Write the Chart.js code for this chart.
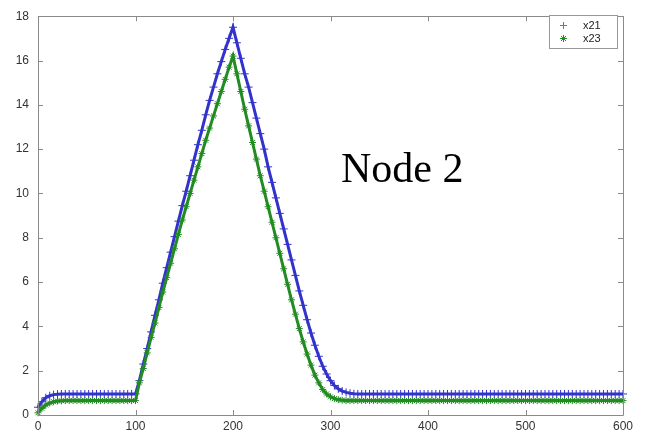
<!DOCTYPE html>
<html>
<head>
<meta charset="utf-8">
<script src="https://cdn.jsdelivr.net/npm/chart.js@4/dist/chart.umd.min.js"></script>
<style>
  html, body { margin: 0; padding: 0; background: #fff; }
  #wrap { width: 647px; height: 434px; }
</style>
</head>
<body>
<div id="wrap"><canvas id="nodeChart" width="647" height="434"></canvas></div>
<script>
// sample times (x axis)
const times = [
    0, 4, 8, 12, 16, 20, 24, 28, 32, 36,
    40, 44, 48, 52, 56, 60, 64, 68, 72, 76,
    80, 84, 88, 92, 96, 100, 104, 108, 112, 116,
    120, 124, 128, 132, 136, 140, 144, 148, 152, 156,
    160, 164, 168, 172, 176, 180, 184, 188, 192, 196,
    200, 204, 208, 212, 216, 220, 224, 228, 232, 236,
    240, 244, 248, 252, 256, 260, 264, 268, 272, 276,
    280, 284, 288, 292, 296, 300, 304, 308, 312, 316,
    320, 324, 328, 332, 336, 340, 344, 348, 352, 356,
    360, 364, 368, 372, 376, 380, 384, 388, 392, 396,
    400, 404, 408, 412, 416, 420, 424, 428, 432, 436,
    440, 444, 448, 452, 456, 460, 464, 468, 472, 476,
    480, 484, 488, 492, 496, 500, 504, 508, 512, 516,
    520, 524, 528, 532, 536, 540, 544, 548, 552, 556,
    560, 564, 568, 572, 576, 580, 584, 588, 592, 596,
    600
];

const x21 = [
    0.35, 0.6, 0.78, 0.87, 0.92, 0.94, 0.95, 0.95, 0.95, 0.95,
    0.95, 0.95, 0.95, 0.95, 0.95, 0.95, 0.95, 0.95, 0.95, 0.95,
    0.95, 0.95, 0.95, 0.95, 0.95, 0.95, 1.55, 2.3, 3.0, 3.75,
    4.5, 5.2, 5.95, 6.65, 7.35, 8.05, 8.75, 9.45, 10.1, 10.8,
    11.5, 12.2, 12.85, 13.55, 14.2, 14.8, 15.4, 15.95, 16.5, 17.0,
    17.5, 16.8, 16.1, 15.4, 14.8, 14.1, 13.4, 12.7, 12.0, 11.2,
    10.5, 9.8, 9.1, 8.4, 7.7, 7.0, 6.3, 5.6, 4.95, 4.3,
    3.7, 3.15, 2.65, 2.2, 1.85, 1.55, 1.33, 1.18, 1.08, 1.02,
    0.98, 0.96, 0.95, 0.95, 0.95, 0.95, 0.95, 0.95, 0.95, 0.95,
    0.95, 0.95, 0.95, 0.95, 0.95, 0.95, 0.95, 0.95, 0.95, 0.95,
    0.95, 0.95, 0.95, 0.95, 0.95, 0.95, 0.95, 0.95, 0.95, 0.95,
    0.95, 0.95, 0.95, 0.95, 0.95, 0.95, 0.95, 0.95, 0.95, 0.95,
    0.95, 0.95, 0.95, 0.95, 0.95, 0.95, 0.95, 0.95, 0.95, 0.95,
    0.95, 0.95, 0.95, 0.95, 0.95, 0.95, 0.95, 0.95, 0.95, 0.95,
    0.95, 0.95, 0.95, 0.95, 0.95, 0.95, 0.95, 0.95, 0.95, 0.95,
    0.95
];

const x23 = [
    0.1, 0.3, 0.45, 0.54, 0.6, 0.63, 0.64, 0.65, 0.65, 0.65,
    0.65, 0.65, 0.65, 0.65, 0.65, 0.65, 0.65, 0.65, 0.65, 0.65,
    0.65, 0.65, 0.65, 0.65, 0.65, 0.65, 1.45, 2.1, 2.8, 3.5,
    4.15, 4.85, 5.55, 6.2, 6.85, 7.5, 8.15, 8.8, 9.4, 10.0,
    10.6, 11.2, 11.8, 12.4, 12.95, 13.5, 14.05, 14.6, 15.15, 15.7,
    16.2, 15.4, 14.6, 13.8, 13.05, 12.3, 11.55, 10.8, 10.1, 9.4,
    8.7, 8.0, 7.3, 6.6, 5.9, 5.2, 4.55, 3.9, 3.3, 2.75,
    2.25, 1.8, 1.45, 1.15, 0.95, 0.82, 0.74, 0.69, 0.67, 0.65,
    0.65, 0.65, 0.65, 0.65, 0.65, 0.65, 0.65, 0.65, 0.65, 0.65,
    0.65, 0.65, 0.65, 0.65, 0.65, 0.65, 0.65, 0.65, 0.65, 0.65,
    0.65, 0.65, 0.65, 0.65, 0.65, 0.65, 0.65, 0.65, 0.65, 0.65,
    0.65, 0.65, 0.65, 0.65, 0.65, 0.65, 0.65, 0.65, 0.65, 0.65,
    0.65, 0.65, 0.65, 0.65, 0.65, 0.65, 0.65, 0.65, 0.65, 0.65,
    0.65, 0.65, 0.65, 0.65, 0.65, 0.65, 0.65, 0.65, 0.65, 0.65,
    0.65, 0.65, 0.65, 0.65, 0.65, 0.65, 0.65, 0.65, 0.65, 0.65,
    0.65
];

const xTicks = [0, 100, 200, 300, 400, 500, 600];
const yTicks = [0, 2, 4, 6, 8, 10, 12, 14, 16, 18];

const blue = '#3333cc';
const green = '#228b22';
const axisGray = '#8a8a8a';

// matlab style box with ticks pointing inwards, plus legend and the label
const matlabFrame = {
    id: 'matlabFrame',
    afterDatasetsDraw(chart) {
        const { ctx, chartArea: a, scales } = chart;
        ctx.save();
        ctx.strokeStyle = axisGray;
        ctx.lineWidth = 1;
        ctx.beginPath();
        ctx.rect(Math.round(a.left) + 0.5, Math.round(a.top) + 0.5,
            Math.round(a.right - a.left), Math.round(a.bottom - a.top));
        ctx.stroke();

        ctx.beginPath();
        xTicks.forEach(v => {
            const px = Math.round(scales.x.getPixelForValue(v)) + 0.5;
            ctx.moveTo(px, a.bottom); ctx.lineTo(px, a.bottom - 5);
            ctx.moveTo(px, a.top); ctx.lineTo(px, a.top + 5);
        });
        yTicks.forEach(v => {
            const py = Math.round(scales.y.getPixelForValue(v)) + 0.5;
            ctx.moveTo(a.left, py); ctx.lineTo(a.left + 5, py);
            ctx.moveTo(a.right, py); ctx.lineTo(a.right - 5, py);
        });
        ctx.stroke();

        // legend box
        const lx = 549, ly = 15, lw = 68, lh = 33;
        ctx.fillStyle = '#fff';
        ctx.fillRect(lx, ly, lw, lh);
        ctx.strokeStyle = '#999';
        ctx.strokeRect(lx + 0.5, ly + 0.5, lw, lh);

        ctx.lineWidth = 1;
        ctx.strokeStyle = '#6a6ae0';
        ctx.beginPath();
        ctx.moveTo(560, 25.5); ctx.lineTo(567, 25.5);
        ctx.moveTo(563.5, 22); ctx.lineTo(563.5, 29);
        ctx.stroke();
        ctx.strokeStyle = green;
        ctx.beginPath();
        ctx.moveTo(560, 38.5); ctx.lineTo(567, 38.5);
        ctx.moveTo(563.5, 35); ctx.lineTo(563.5, 42);
        ctx.moveTo(561, 36); ctx.lineTo(566, 41);
        ctx.moveTo(566, 36); ctx.lineTo(561, 41);
        ctx.stroke();

        ctx.fillStyle = '#222';
        ctx.font = '11px "Liberation Sans", Arial, sans-serif';
        ctx.textBaseline = 'middle';
        ctx.fillText('x21', 583, 25.5);
        ctx.fillText('x23', 583, 38.5);

        ctx.font = '42px "Liberation Serif", "Times New Roman", serif';
        ctx.textBaseline = 'alphabetic';
        ctx.fillStyle = '#000';
        ctx.fillText('Node 2', 341, 182);
        ctx.restore();
    }
};

new Chart(document.getElementById('nodeChart'), {
    type: 'scatter',
    data: {
        datasets: [
            {
                label: 'x21',
                data: times.map((t, i) => ({ x: t, y: x21[i] })),
                showLine: true,
                borderColor: blue,
                backgroundColor: blue,
                borderWidth: 3,
                pointStyle: 'cross',
                pointRadius: 4,
                pointBorderWidth: 1,
                pointBorderColor: blue,
                order: 1,
                clip: 6
            },
            {
                label: 'x23',
                data: times.map((t, i) => ({ x: t, y: x23[i] })),
                showLine: true,
                borderColor: green,
                backgroundColor: green,
                borderWidth: 3,
                pointStyle: 'star',
                pointRadius: 3.5,
                pointBorderWidth: 1,
                pointBorderColor: green,
                order: 0,
                clip: 6
            }
        ]
    },
    options: {
        responsive: false,
        animation: false,
        layout: { padding: { left: 0, right: 24, top: 11, bottom: 0 } },
        plugins: {
            legend: { display: false },
            tooltip: { enabled: false }
        },
        scales: {
            x: {
                type: 'linear',
                min: 0,
                max: 600,
                afterBuildTicks: s => { s.ticks = xTicks.map(v => ({ value: v })); },
                afterFit: s => { s.height = 19; },
                grid: { display: false, drawTicks: false },
                border: { display: false },
                ticks: {
                    padding: 4,
                    color: '#333',
                    font: { family: '"Liberation Sans", Arial, sans-serif', size: 12 }
                }
            },
            y: {
                min: 0,
                max: 18,
                afterBuildTicks: s => { s.ticks = yTicks.map(v => ({ value: v })); },
                afterFit: s => { s.width = 38; },
                grid: { display: false, drawTicks: false },
                border: { display: false },
                ticks: {
                    padding: 9,
                    color: '#333',
                    font: { family: '"Liberation Sans", Arial, sans-serif', size: 12 }
                }
            }
        }
    },
    plugins: [matlabFrame]
});
</script>
</body>
</html>
